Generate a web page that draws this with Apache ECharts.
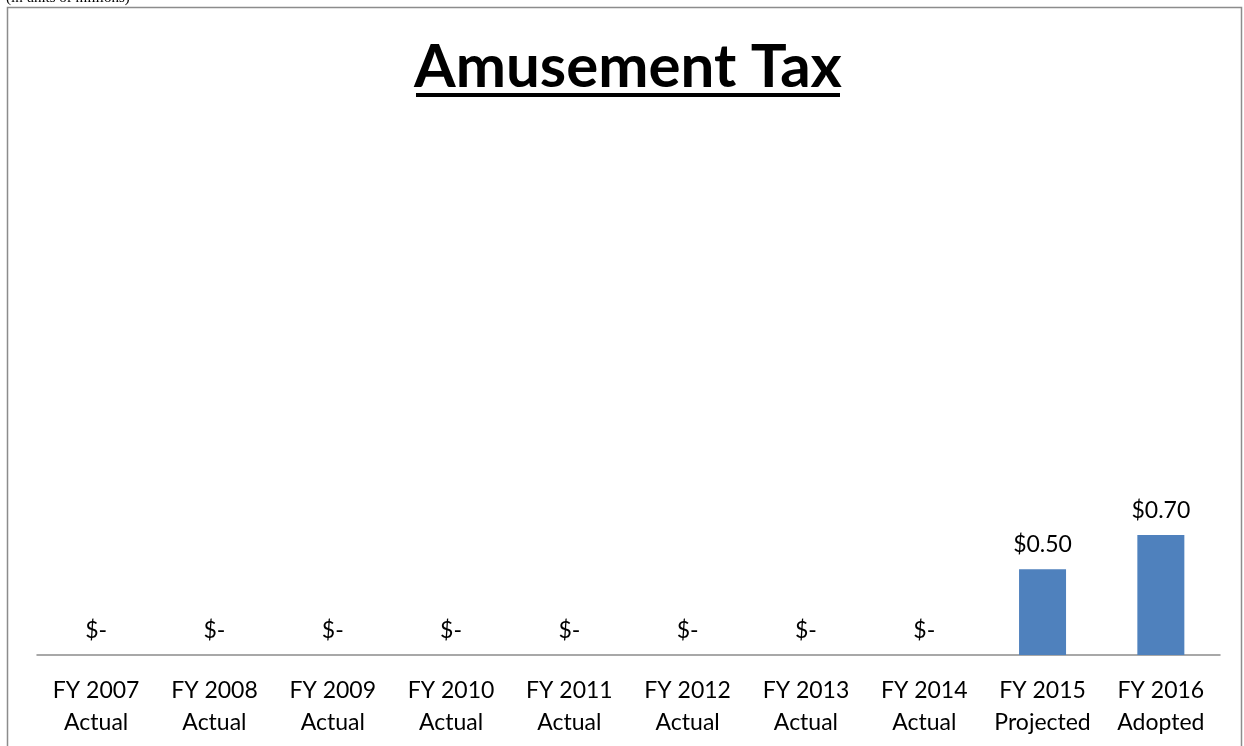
<!DOCTYPE html>
<html>
<head>
<meta charset="utf-8">
<script src="https://cdn.jsdelivr.net/npm/echarts@6/dist/echarts.min.js"></script>
<style>
  html, body { margin: 0; padding: 0; background: #fff; }
  #chart { width: 1244px; height: 746px; }
</style>
</head>
<body>
<div id="chart"></div>
<script>
// fiscal years and their budget stage
var years = ["FY 2007", "FY 2008", "FY 2009", "FY 2010", "FY 2011", "FY 2012", "FY 2013", "FY 2014", "FY 2015", "FY 2016"];
var stages = ["Actual", "Actual", "Actual", "Actual", "Actual", "Actual", "Actual", "Actual", "Projected", "Adopted"];
// amusement tax, millions of dollars
var revenue = [0, 0, 0, 0, 0, 0, 0, 0, 0.5, 0.7];

var categories = years.map(function (y, i) { return y + "\n" + stages[i]; });

var chart = echarts.init(document.getElementById("chart"));
chart.setOption({
  animation: false,
  textStyle: { fontFamily: "Lato" },
  graphic: [
    {
      type: "rect",
      shape: { x: 7.5, y: 7.5, width: 1234, height: 760 },
      style: { fill: null, stroke: "#8c8c8c", lineWidth: 1.5 }
    },
    {
      type: "text",
      left: 6, top: -9,
      style: { text: "(in units of millions)", font: "15px 'Liberation Serif'", fill: "#000" }
    },
    {
      type: "text",
      x: 628, y: 68,
      style: {
        text: "Amusement Tax", font: "bold 60px Lato", fill: "#000",
        align: "center", verticalAlign: "middle"
      }
    },
    {
      type: "rect",
      shape: { x: 416, y: 93, width: 424, height: 4 },
      style: { fill: "#000" }
    }
  ],
  grid: { left: 37, right: 24, top: 140.5, bottom: 91 },
  xAxis: {
    type: "category",
    data: categories,
    axisLine: { lineStyle: { color: "#8c8c8c", width: 1.5 } },
    axisTick: { show: false },
    axisLabel: {
      color: "#000", fontSize: 23, lineHeight: 32, margin: 20,
      fontFamily: "Lato", interval: 0
    }
  },
  yAxis: {
    type: "value",
    min: 0, max: 3,
    show: false,
    splitLine: { show: false }
  },
  series: [
    {
      type: "bar",
      data: revenue,
      barWidth: 47,
      itemStyle: { color: "#4f81bd" },
      label: {
        show: true,
        position: "top",
        distance: 13,
        color: "#000",
        fontSize: 23,
        fontFamily: "Lato",
        formatter: function (p) {
          return p.value === 0 ? "$-" : "$" + p.value.toFixed(2);
        }
      }
    }
  ]
});
</script>
</body>
</html>
